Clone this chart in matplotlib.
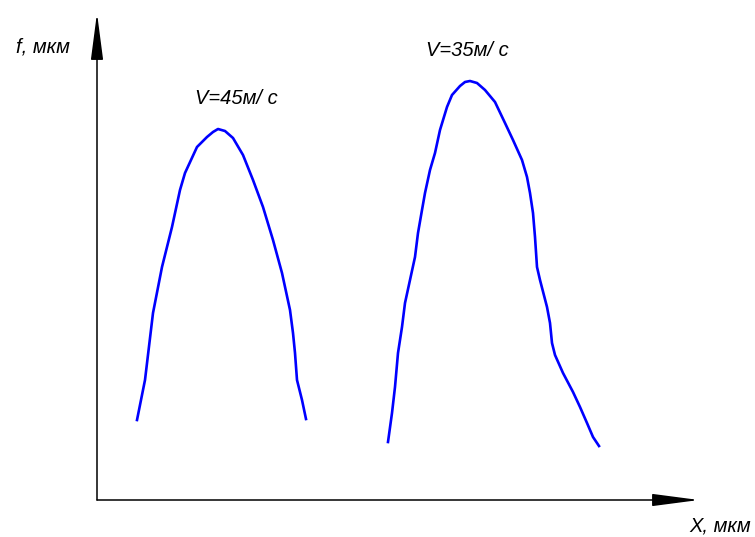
import matplotlib
matplotlib.use('Agg')
from matplotlib import pyplot as plt

# origin of the sketch axes sits at pixel (97, 500); values below are X and f
# measured from that origin
curve45_x = [40, 48, 56, 65, 75, 83, 88, 100, 110, 116, 121, 128, 136, 146, 156, 166,
             176, 185, 193, 196, 198, 200, 205, 209]
curve45_f = [80, 120, 187, 233, 273, 310, 327, 353, 363, 368, 371, 369, 362, 345, 320, 293,
             260, 227, 190, 167, 147, 120, 100, 81]

curve35_x = [291, 295, 298, 301, 305, 308, 313, 318, 321, 325, 328, 333, 338, 343, 350,
             355, 363, 368, 373, 380, 388, 398, 408, 416, 425, 430, 433, 436, 438, 440, 443,
             450, 453, 455, 458, 466, 476, 483, 490, 496, 502]
curve35_f = [58, 87, 113, 147, 173, 197, 220, 243, 267, 290, 307, 330, 347, 370, 393,
             405, 414, 418, 419, 417, 410, 398, 377, 360, 340, 323, 307, 287, 263, 233, 220,
             193, 177, 157, 145, 127, 108, 93, 77, 63, 54]

labels = ['V=45м/ с', 'V=35м/ с']
label_pos = [(139, 402), (370, 449)]

line_color = '#0000ff'
font = ['Liberation Sans Narrow', 'Liberation Sans', 'DejaVu Sans']

fig = plt.figure(figsize=(7.55, 5.37), dpi=100)
ax = fig.add_axes([0, 0, 1, 1])
ax.set_xlim(-97, 658)
ax.set_ylim(-37, 500)
ax.axis('off')

# axes drawn as arrows
arrow = dict(arrowstyle='-|>,head_length=2.9,head_width=0.38', lw=1.1, color='black',
             shrinkA=0, shrinkB=0)
ax.annotate('', xy=(0, 487), xytext=(0, 0), arrowprops=arrow)
ax.annotate('', xy=(602, 0), xytext=(0, 0), arrowprops=arrow)

ax.plot(curve45_x, curve45_f, color=line_color, lw=1.9, solid_joinstyle='round')
ax.plot(curve35_x, curve35_f, color=line_color, lw=1.9, solid_joinstyle='round')

for text, (x, y) in zip(labels, label_pos):
    ax.text(x, y, text, ha='center', va='center', fontsize=14.5, style='italic',
            family=font)

ax.text(-54, 453, 'f, мкм', ha='center', va='center', fontsize=14.5, style='italic',
        family=font)
ax.text(623, -26, 'X, мкм', ha='center', va='center', fontsize=14.5, style='italic',
        family=font)

plt.savefig('out.png', dpi=100)
